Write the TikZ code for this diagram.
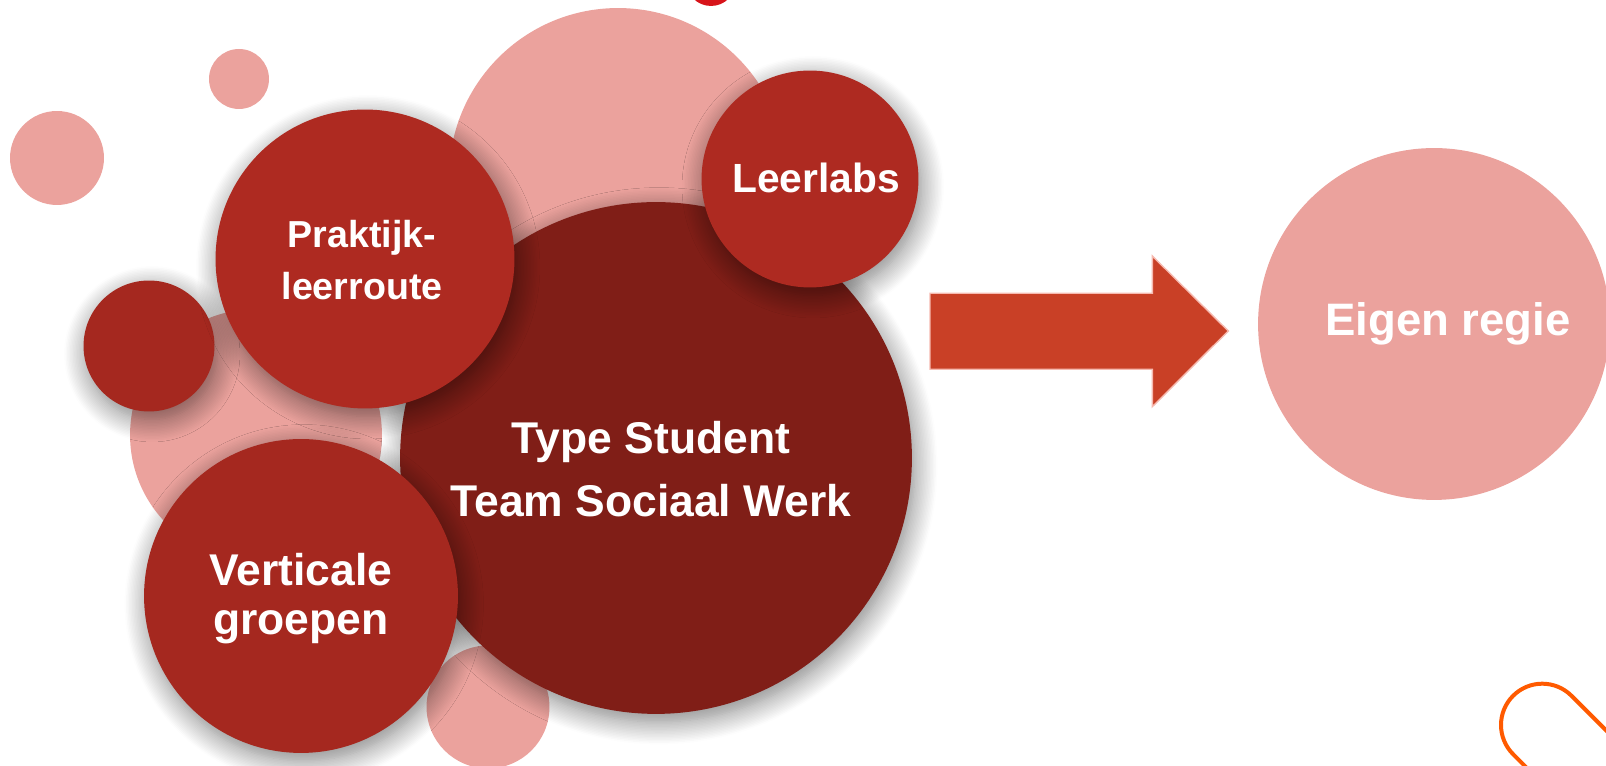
\documentclass[tikz,border=0pt]{standalone}
\usepackage{fontspec}
\setmainfont{Liberation Sans}
\usetikzlibrary{shadows.blur}

\definecolor{bubblepink}{RGB}{235,162,157}
\definecolor{deepred}{RGB}{128,30,23}
\definecolor{midred}{RGB}{174,42,33}
\definecolor{sidered}{RGB}{165,40,31}
\definecolor{arrowred}{RGB}{201,64,38}
\definecolor{arrowedge}{RGB}{246,186,176}
\definecolor{topred}{RGB}{215,20,26}
\definecolor{cliporange}{RGB}{255,90,0}

\def\ShaftL{930}
\def\HeadB{1152.3}
\def\TipX{1228.3}

\begin{document}
\begin{tikzpicture}[x=0.02cm, y=0.02cm,
    bubble/.style={circle, inner sep=0pt, minimum size={0.04cm*#1}},
    pale/.style={bubble=#1, fill=bubblepink},
    dark/.style={bubble=#1, blur shadow={shadow xshift=0.06cm, shadow yshift=-0.16cm, shadow blur radius=0.45cm, shadow blur steps=16, shadow opacity=50}},
    caption/.style={text=white, align=center, inner sep=0pt}]
    \clip (0,0) rectangle (1606,766);

    % background bubbles
    \node[pale=30] (dotA) at (239,687) {};
    \node[pale=47] (dotB) at (57,608) {};
    \node[pale=169] (backtop) at (618,589) {};
    \node[pale=126] (backleft) at (256,331) {};
    \node[pale=61.5] (backlow) at (488,59) {};
    \node[bubble=25, fill=topred] (topdot) at (711,785) {};

    % front bubbles
    \node[dark=65.5, fill=sidered] (sidedot) at (149,420) {};
    \node[dark=256, fill=deepred] (core) at (656,308) {};
    \node[dark=149.5, fill=midred] (praktijk) at (365,507) {};
    \node[dark=108.5, fill=midred] (leerlabs) at (810,587) {};
    \node[dark=157, fill=sidered] (verticaal) at (301,170) {};
    \node[pale=176] (regie) at (1434,442) {};

    \node[caption, font={\fontsize{25.3}{35.5}\selectfont\bfseries}, xshift=-0.1cm, yshift=-0.22cm] (coretext) at (core) {Type Student\\Team Sociaal Werk};
    \node[caption, font={\fontsize{21.4}{29.6}\selectfont\bfseries}, xshift=-0.06cm, yshift=-0.02cm] (praktijktext) at (praktijk) {Praktijk-\\leerroute};
    \node[caption, font={\fontsize{23.2}{28}\selectfont\bfseries}, xshift=0.12cm, yshift=0.02cm] (leerlabstext) at (leerlabs) {Leerlabs};
    \node[caption, font={\fontsize{25.3}{28}\selectfont\bfseries}, yshift=-0.05cm] (verticaaltext) at (verticaal) {Verticale\\groepen};
    \node[caption, font={\fontsize{25.9}{30}\selectfont\bfseries}, xshift=0.28cm] (regietext) at (regie) {Eigen regie};

    % block arrow
    \filldraw[fill=arrowred, draw=arrowedge, line width=0.8pt]
        (\ShaftL,396.7) -- (\ShaftL,472.7) -- (\HeadB,472.7) -- (\HeadB,510)
        -- (\TipX,435) -- (\HeadB,359.3) -- (\HeadB,396.7) -- cycle;

    % corner clip
    \draw[cliporange, line width=2.27pt] (1631.5,10.2) -- (1571.5,70.2)
        arc[start angle=45, end angle=225, radius=41.3] -- ++(40,-40);
\end{tikzpicture}
\end{document}
